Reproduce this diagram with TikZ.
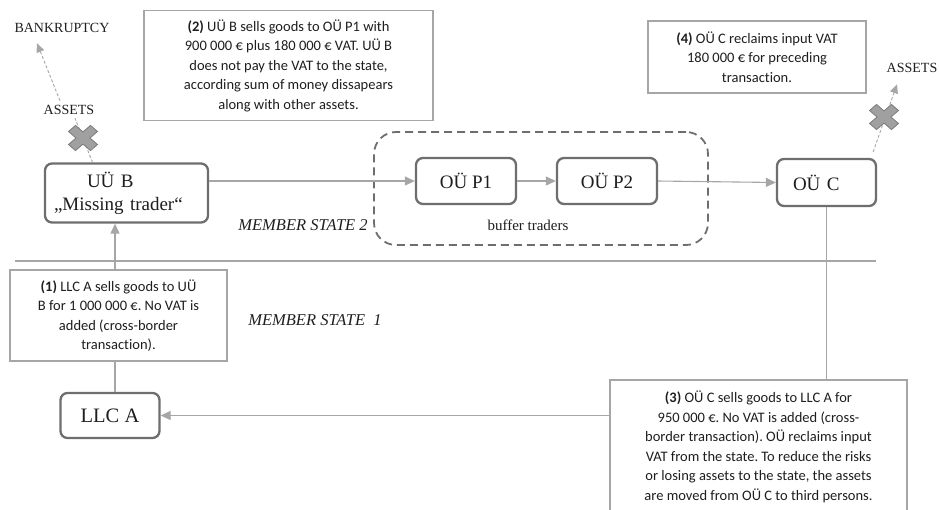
\documentclass[tikz,border=0pt]{standalone}
\usepackage{fontspec}
\setmainfont{Liberation Serif}
\newfontfamily\calfont[Ligatures=NoCommon]{Carlito}
\usetikzlibrary{arrows.meta,calc}
\definecolor{nodeborder}{HTML}{6E6E6E}
\definecolor{boxborder}{HTML}{A6A6A6}
\definecolor{linegray}{HTML}{A6A6A6}
\definecolor{crossfill}{HTML}{A0A0A0}
\definecolor{crossedge}{HTML}{7A7A7A}
\definecolor{txt}{HTML}{1E1E1E}
\frenchspacing
\begin{document}
\begin{tikzpicture}[x=1pt,y=-1pt,
  entity/.style={draw=nodeborder, line width=2.3pt, rounded corners=7pt, fill=white,
    text=txt, font=\fontsize{19}{22}\selectfont, inner sep=0pt, align=center},
  note/.style={draw=boxborder, line width=1.8pt, fill=white, text=txt, align=center,
    font=\calfont\frenchspacing\fontsize{14.5}{19.5}\selectfont, inner sep=0pt},
  lbl/.style={text=txt, font=\fontsize{14}{16}\selectfont},
  zone/.style={text=txt, font=\itshape\fontsize{16.5}{18}\selectfont},
  flow/.style={draw=linegray, line width=1.1pt, -{Triangle[length=10pt,width=9pt]}},
  assetline/.style={draw=linegray, line width=0.9pt, dash pattern=on 3pt off 2pt},
  assetarrow/.style={assetline, -{Triangle[length=9pt,width=8pt]}},
  container/.style={draw=nodeborder, line width=1.8pt, dash pattern=on 8pt off 5pt, rounded corners=22pt},
  separator/.style={draw=boxborder, line width=1.8pt},
  xcross/.pic={\draw[fill=crossfill, draw=crossedge, line width=0.8pt, xscale=1.15, rotate=45]
    (4.3,4.3) -- (13.5,4.3) -- (13.5,-4.3) -- (4.3,-4.3) -- (4.3,-13.5) -- (-4.3,-13.5) -- (-4.3,-4.3)
    -- (-13.5,-4.3) -- (-13.5,4.3) -- (-4.3,4.3) -- (-4.3,13.5) -- (4.3,13.5) -- cycle;}
]
\useasboundingbox (0,0) rectangle (939,509);

% separator between member states
\coordinate (sepL) at (15,261);
\coordinate (sepR) at (876,261);
\draw[separator] (sepL) -- (sepR);

% buffer traders container
\node[container, minimum width=334pt, minimum height=113pt] (buffer) at (541,188.5) {};

% entities
\node[entity, minimum width=163pt, minimum height=59pt, text width=145pt, align=left] (uub) at (126.5,193)
  {\hspace*{33pt}UÜ B\\[1pt]„Missing trader“};
\node[entity, minimum width=100pt, minimum height=46pt] (p1) at (466,181) {OÜ P1};
\node[entity, minimum width=100pt, minimum height=46pt] (p2) at (607,181) {OÜ P2};
\node[entity, minimum width=99pt, minimum height=47pt, text width=79pt, align=left] (ouc) at (826.5,182.5) {\hspace*{6pt}OÜ C};
\node[entity, minimum width=99pt, minimum height=45pt, font=\fontsize{20.5}{23}\selectfont] (llca) at (110,415.5) {LLC A};

% labels
\node[lbl] (bankrupt) at (62,28) {BANKRUPTCY};
\node[lbl] (assetsL) at (69,110) {ASSETS};
\node[lbl] (assetsR) at (912,68) {ASSETS};
\node[zone] (ms2) at (303,225) {MEMBER STATE 2};
\node[zone] (ms1) at (315,320) {MEMBER STATE\ \ 1};
\node[text=txt, font=\fontsize{15}{17}\selectfont] (bt) at (528,225) {buffer traders};

% connectors
\draw[flow] (uub.east |- p1.west) -- (p1.west);
\draw[flow] (p1.east) -- (p2.west);
\draw[flow] (p2.east) -- (ouc.west);
\draw[flow] (ouc.south) |- (llca.east);
\draw[flow] ([xshift=5pt]llca.north) -- ([xshift=5pt]llca.north |- uub.south);

\draw[assetline] ([xshift=-34pt]uub.north) -- ([xshift=6pt]assetsL.south);
\draw[assetarrow] ([shift={(-9,-1)}]assetsL.north) -- ([shift={(-25,7)}]bankrupt.south);
\draw[assetarrow] ([shift={(-4,-6)}]ouc.north east) -- ([shift={(-15,8)}]assetsR.south);

% crosses
\pic at (83,138) {xcross};
\pic at (884,117) {xcross};

% notes
\node[note, minimum width=289pt, minimum height=110pt] (n2) at (288.5,65.5)
  {\textbf{(2)} UÜ B sells goods to OÜ P1 with\\900 000 € plus 180 000 € VAT. UÜ B\\does not pay the VAT to the state,\\according sum of money dissapears\\along with other assets.};
\node[note, minimum width=218pt, minimum height=72pt] (n4) at (757,57)
  {\textbf{(4)} OÜ C reclaims input VAT\\180 000 € for preceding\\transaction.};
\node[note, minimum width=217pt, minimum height=91pt] (n1) at (118.5,315.5)
  {\textbf{(1)} LLC A sells goods to UÜ\\B for 1 000 000 €. No VAT is\\added (cross-border\\transaction).};
\node[note, minimum width=297pt, minimum height=133.5pt] (n3) at (758.5,446.75)
  {\textbf{(3)} OÜ C sells goods to LLC A for\\950 000 €. No VAT is added (cross-\\border transaction). OÜ reclaims input\\VAT from the state. To reduce the risks\\or losing assets to the state, the assets\\are moved from OÜ C to third persons.};
\end{tikzpicture}
\end{document}
